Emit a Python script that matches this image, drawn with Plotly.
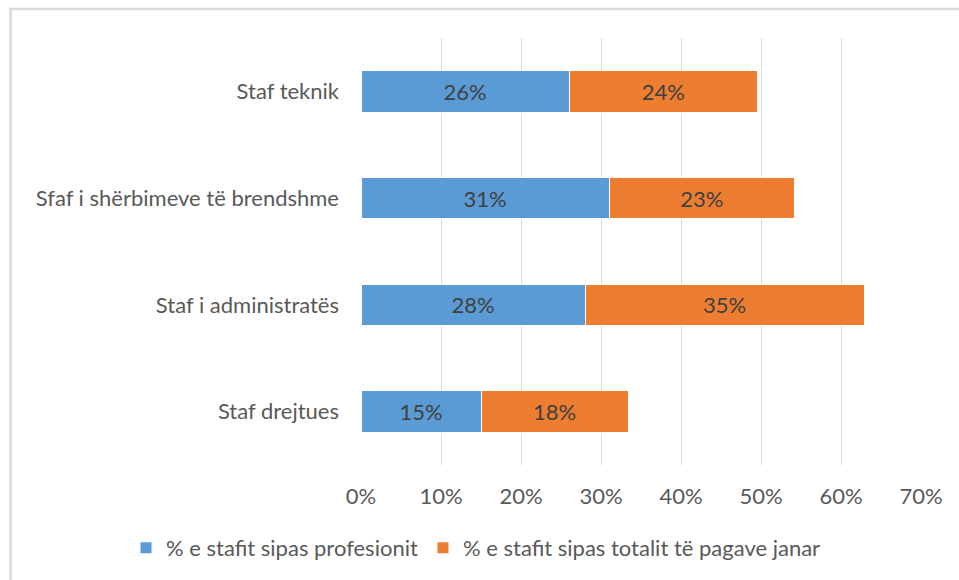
import plotly.graph_objects as go

# Staff categories (bottom to top) and the two percentage series
categories = [
    "Staf drejtues",
    "Staf i administratës",
    "Sfaf i shërbimeve të brendshme",
    "Staf teknik",
]
share_by_profession = [15.0, 28.0, 31.0, 26.0]
share_by_january_pay = [18.4, 34.9, 23.2, 23.6]
series_names = [
    "% e stafit sipas profesionit",
    "% e stafit sipas totalit të pagave janar",
]
x_ticks = [0, 10, 20, 30, 40, 50, 60, 70]
x_tick_labels = [f"{t}%" for t in x_ticks]

W, H = 959, 580
L, R, T, B = 361, 38, 38, 115
pw, ph = W - L - R, H - T - B

FONT = "Lato, Open Sans, sans-serif"
GREY = "#595959"
FS = 22

fig = go.Figure()
for name, vals, col in [
    (series_names[0], share_by_profession, "#5B9BD5"),
    (series_names[1], share_by_january_pay, "#ED7D31"),
]:
    fig.add_trace(go.Bar(
        y=categories, x=vals, name=name, orientation="h",
        marker=dict(color=col, line=dict(color="white", width=1)),
        text=[f"{round(v):d}%" for v in vals],
        textposition="inside", insidetextanchor="middle",
        textfont=dict(family=FONT, size=FS, color="#404040"),
        hoverinfo="skip",
    ))

# light frame around the whole chart
def px_x(p):
    return (p - L) / pw

def px_y(p):
    return (H - B - p) / ph

fig.add_shape(type="rect", xref="paper", yref="paper",
              x0=px_x(10.5), x1=px_x(990), y0=px_y(9), y1=px_y(600),
              line=dict(color="#d9d9d9", width=2.5), fillcolor="rgba(0,0,0,0)",
              layer="below")

fig.update_layout(
    width=W, height=H,
    margin=dict(l=L, r=R, t=T, b=B, autoexpand=False),
    barmode="stack", bargap=0.61,
    paper_bgcolor="white", plot_bgcolor="white",
    font=dict(family=FONT, size=FS, color=GREY),
    uniformtext=dict(mode=False),
    xaxis=dict(
        range=[0, 70], tickvals=x_ticks, ticktext=x_tick_labels,
        showgrid=True, gridcolor="#d9d9d9", gridwidth=1.3,
        zeroline=False, showline=False, ticks="",
        ticklabelstandoff=16,
        tickfont=dict(family=FONT, size=FS, color=GREY),
        fixedrange=True,
    ),
    yaxis=dict(
        categoryorder="array", categoryarray=categories,
        showgrid=False, zeroline=False, showline=False, ticks="",
        ticklabelstandoff=21,
        tickfont=dict(family=FONT, size=FS, color=GREY),
        fixedrange=True,
    ),
    legend=dict(
        orientation="h",
        x=px_x(126), xanchor="left",
        y=px_y(548), yanchor="middle",
        font=dict(family=FONT, size=FS, color=GREY),
        traceorder="normal", itemwidth=30,
        bgcolor="rgba(0,0,0,0)",
    ),
    showlegend=True,
)

fig.write_html("out.html", config=dict(displayModeBar=False))
